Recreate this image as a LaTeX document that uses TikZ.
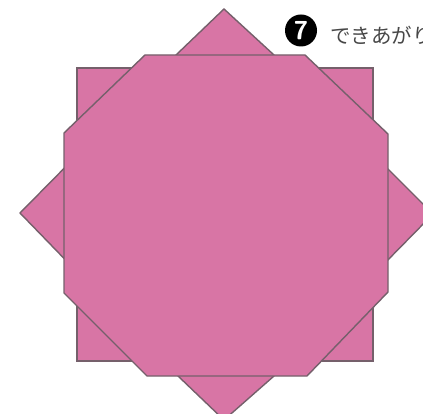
\documentclass[tikz,border=0pt]{standalone}
\usepackage{fontspec}
\newfontfamily\cjk{Noto Sans CJK JP}
\definecolor{petal}{HTML}{D875A5}
\definecolor{edgeline}{HTML}{75606B}
\tikzset{
  paper/.style={fill=petal,draw=edgeline,line width=1.4pt,line join=miter},
  caption/.style={anchor=west,inner sep=0pt,text=black!72,font=\cjk\fontsize{20.5}{20.5}\selectfont},
  badge/.style={circle,fill=black,inner sep=0pt,minimum size=32pt,text=white,font=\sffamily\bfseries\fontsize{26}{26}\selectfont}
}
\begin{document}
\begin{tikzpicture}[x=1pt,y=-1pt]
\useasboundingbox (0,0) rectangle (423,414);
\clip (0,0) rectangle (423,414);
\draw[paper] (224,9) -- (274,55) -- (433,214) -- (274,376) -- (224,420) -- (178,376) -- (20,213) -- (176,55) -- cycle;
\draw[paper] (77,68) rectangle (373,361);
\draw[paper] (145,55) -- (305,55) -- (388,134) -- (388,292) -- (307,376) -- (147,376) -- (64,293) -- (64,133) -- cycle;
\node[badge] (seven) at (301,30.5) {7};
\node[caption] (done) at (330,35) {できあがり};
\end{tikzpicture}
\end{document}
